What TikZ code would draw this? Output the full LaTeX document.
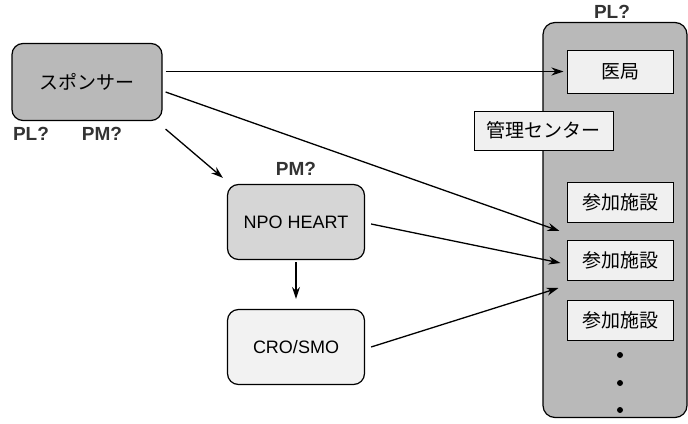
\documentclass[tikz,border=0pt]{standalone}
\usepackage{fontspec}
\setmainfont{Liberation Sans}
\newfontfamily\jp{Noto Sans CJK JP}
\usetikzlibrary{calc,arrows.meta}
\tikzset{
    box/.style={draw, line width=1.2pt, rounded corners=11pt, minimum width=137pt, minimum height=75pt,
        font=\fontsize{18}{20}\selectfont},
    site/.style={draw, line width=1pt, fill=gray!12, minimum width=106pt, minimum height=40pt,
        font=\jp\fontsize{19}{21}\selectfont},
    role/.style={font=\bfseries\fontsize{19}{21}\selectfont, text=black!80},
    link/.style={line width=1.3pt, -{Stealth[length=12pt,width=8pt]}}
}

\begin{document}
\begin{tikzpicture}[x=1pt,y=-1pt]
        \useasboundingbox (0,0) rectangle (688,423);
        % right column with its sites
        \node[draw, line width=1.2pt, fill=gray!55, rounded corners=12pt, minimum width=144pt, minimum height=395pt] (column) at (615,220) {};
        \node[role] (pl) at (612,12) {PL?};
        \node[site, minimum height=43pt] (ikyoku) at (620,71.5) {医局};
        \node[site, minimum width=139pt, minimum height=39pt] (center) at (543.5,130.5) {管理センター};
        \node[site] (s1) at (620,202) {参加施設};
        \node[site] (s2) at (620,260) {参加施設};
        \node[site] (s3) at (620,320) {参加施設};
        \foreach \y in {355,383,410}
            \fill (620,\y) circle (3pt);
        % left side
        \node[box, fill=gray!55, minimum width=150pt, minimum height=77pt, font=\jp\fontsize{19}{21}\selectfont] (sponsor) at (87,82) {スポンサー};
        \node[role] (plpm) at (31,134) {PL?};
        \node[role] (pm) at (102,134) {PM?};
        \node[box, fill=gray!32] (npo) at (296,222) {NPO HEART};
        \node[role] (npopm) at (296,169) {PM?};
        \node[box, fill=gray!10] (cro) at (296,347) {CRO/SMO};
        % arrows
        \draw[link] ($(sponsor.east |- ikyoku.west)+(3,0)$) -- ($(ikyoku.west)+(-3,0)$);
        \draw[link] ($(sponsor.east)+(3,10)$) -- ($(s1.south west)!.5!(s2.north west)+(-7,0)$);
        \draw[link] ($(sponsor.south east)+(3,8)$) -- ($(npo.north west)+(-4,-6)$);
        \draw[link] ($(npo.east)+(6,2)$) -- ($(s2.west)+(-6,3)$);
        \draw[link] ($(cro.east)+(6,0)$) -- ($(s2.south west)!.5!(s3.north west)+(-8,-2)$);
        \draw[link] ($(npo.south)+(0,2)$) -- ($(cro.north)+(0,-10)$);
\end{tikzpicture}
\end{document}
